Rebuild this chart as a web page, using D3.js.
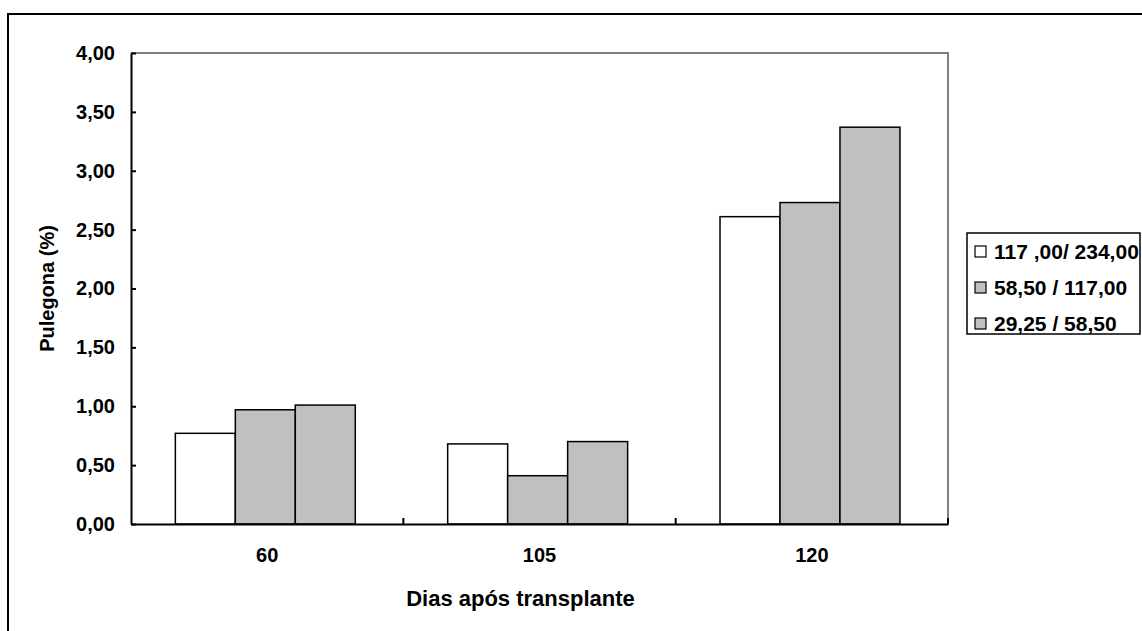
<!DOCTYPE html>
<html>
<head>
<meta charset="utf-8">
<script src="https://cdn.jsdelivr.net/npm/d3@7"></script>
<style>
  body { margin: 0; background: #fff; }
  text { font-family: "Liberation Sans", Arial, sans-serif; font-weight: bold; fill: #000; }
</style>
</head>
<body>
<svg width="1142" height="631"></svg>
<script>
const days = ['60', '105', '120']
const seriesNames = ['117 ,00/ 234,00', '58,50 / 117,00', '29,25 / 58,50']
const serie1 = [0.77, 0.68, 2.61]
const serie2 = [0.97, 0.41, 2.73]
const serie3 = [1.01, 0.70, 3.37]
const yTicks = [0, 0.5, 1, 1.5, 2, 2.5, 3, 3.5, 4]
const fills = ['#ffffff', '#c0c0c0', '#c0c0c0']

let plotLeft = 131
let plotRight = 948
let plotTop = 53
let plotBottom = 524

let svg = d3.select('svg')

// outer frame (only left and top edges visible)
svg.append('rect')
    .attr('x', 8).attr('y', 14)
    .attr('width', 1200).attr('height', 700)
    .attr('fill', 'none').attr('stroke', '#000').attr('stroke-width', 2)

let x0 = d3.scaleBand().domain(days).range([plotLeft, plotRight]).padding(0)
let x1 = d3.scaleBand().domain(d3.range(3))
            .range([0, x0.bandwidth()])
            .paddingInner(0).paddingOuter(0.77).align(0.48)
let y = d3.scaleLinear().domain([0, 4]).range([plotBottom, plotTop])

// grey plot border top + right
svg.append('path')
    .attr('d', `M${plotLeft},${plotTop}H${plotRight}V${plotBottom}`)
    .attr('fill', 'none').attr('stroke', '#808080').attr('stroke-width', 2)

let rows = days.map((d, i) => ({ day: d, vals: [serie1[i], serie2[i], serie3[i]] }))

svg.append('g').selectAll('g')
  .data(rows)
  .enter().append('g')
    .attr('transform', d => `translate(${x0(d.day)},0)`)
  .selectAll('rect')
  .data(d => d.vals.map((v, k) => ({ k, v })))
  .enter().append('rect')
    .attr('x', d => x1(d.k))
    .attr('y', d => y(d.v))
    .attr('width', x1.bandwidth())
    .attr('height', d => y(0) - y(d.v))
    .attr('fill', d => fills[d.k])
    .attr('stroke', '#000').attr('stroke-width', 1.5)

// y axis
let yAxis = svg.append('g')
    .attr('transform', `translate(${plotLeft},0)`)
    .call(d3.axisLeft(y).tickValues(yTicks).tickSizeInner(-5).tickSizeOuter(0)
      .tickFormat(d => d3.format('.2f')(d).replace('.', ',')))
yAxis.select('.domain').attr('stroke-width', 2)
yAxis.selectAll('line').attr('stroke-width', 2)
yAxis.selectAll('text').attr('x', -16).style('font-size', '20px')

// x axis
let xAxis = svg.append('g')
    .attr('transform', `translate(0,${plotBottom})`)
    .call(d3.axisBottom(x0).tickSize(0))
xAxis.select('.domain').attr('stroke-width', 2)
xAxis.selectAll('text').attr('y', 24).style('font-size', '20px')

// category separator ticks
svg.append('g').selectAll('line')
  .data(days.slice(1).concat(['end']))
  .enter().append('line')
    .attr('x1', d => d === 'end' ? plotRight : x0(d))
    .attr('x2', d => d === 'end' ? plotRight : x0(d))
    .attr('y1', plotBottom).attr('y2', plotBottom - 6)
    .attr('stroke', '#000').attr('stroke-width', 2)

svg.append('text')
    .attr('x', (plotLeft + plotRight) / 2 - 19).attr('y', 606)
    .attr('text-anchor', 'middle').style('font-size', '22px')
    .text('Dias após transplante')

svg.append('text')
    .attr('transform', `translate(54,${(plotTop + plotBottom) / 2}) rotate(-90)`)
    .attr('text-anchor', 'middle').style('font-size', '20px')
    .text('Pulegona (%)')

// legend
let legend = svg.append('g')
legend.append('rect')
    .attr('x', 967).attr('y', 233).attr('width', 173).attr('height', 101)
    .attr('fill', '#fff').attr('stroke', '#000').attr('stroke-width', 1.5)
let item = legend.selectAll('g.item')
  .data(seriesNames)
  .enter().append('g')
    .attr('transform', (d, i) => `translate(975,${252 + i * 36})`)
item.append('rect')
    .attr('x', 0).attr('y', -6).attr('width', 11).attr('height', 11)
    .attr('fill', (d, i) => fills[i]).attr('stroke', '#000').attr('stroke-width', 1.2)
item.append('text')
    .attr('x', 19).attr('y', 7).style('font-size', '21px')
    .text(d => d)
</script>
</body>
</html>
